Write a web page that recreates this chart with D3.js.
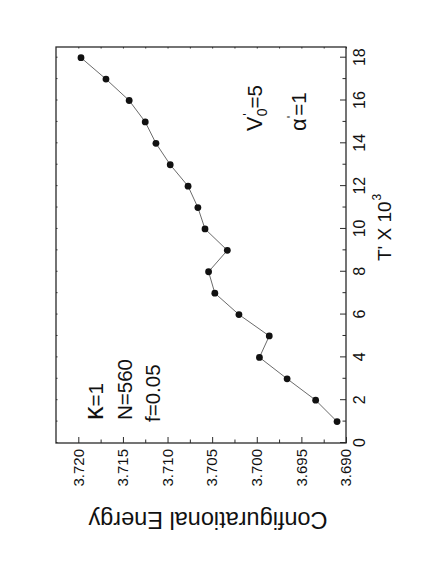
<!DOCTYPE html>
<html>
<head>
<meta charset="utf-8">
<script src="https://cdn.jsdelivr.net/npm/d3@7"></script>
<style>
  body { margin: 0; background: #fff; }
  svg { display: block; font-family: "Liberation Sans", Arial, sans-serif; }
</style>
</head>
<body>
<div id="chart"></div>
<script>
// Page size (the figure is drawn landscape, then turned a quarter turn)
const pageW = 436;
const pageH = 564;

// Data
const temps = [1, 2, 3, 4, 5, 6, 7, 8, 9, 10, 11, 12, 13, 14, 15, 16, 17, 18];
const energy = [3.6910, 3.6934, 3.6966, 3.6997, 3.6986, 3.7020, 3.7047, 3.7054, 3.7033,
                3.7058, 3.7066, 3.7077, 3.7097, 3.7113, 3.7125, 3.7143, 3.7169, 3.7197];

// Tick values
const tTicks = [0, 2, 4, 6, 8, 10, 12, 14, 16, 18];
const tMinor = [1, 3, 5, 7, 9, 11, 13, 15, 17];
const eTicks = [3.690, 3.695, 3.700, 3.705, 3.710, 3.715, 3.720];
const eMinor = [3.6925, 3.6975, 3.7025, 3.7075, 3.7125, 3.7175];

// Plot box in the un-rotated frame
const margin = {left: 121, right: 564 - 517, top: 56, bottom: 436 - 346};
const W = pageH;   // landscape width
const H = pageW;   // landscape height

const svg = d3.select("#chart")
  .append("svg")
  .attr("width", pageW)
  .attr("height", pageH);

// rotate everything by -90deg
const g = svg.append("g")
  .attr("transform", `translate(0,${pageH}) rotate(-90)`);

const x = d3.scaleLinear()
  .domain([0, 18.5])
  .range([margin.left, W - margin.right]);

const y = d3.scaleLinear()
  .domain([3.690, 3.7225])
  .range([H - margin.bottom, margin.top]);

const frameColor = "#2a2a2a";

// x axis (T') - ticks inside
const xAxis = g.append("g")
  .attr("transform", `translate(0,${H - margin.bottom})`)
  .call(d3.axisBottom(x).tickValues(tTicks).tickSizeInner(-6).tickSizeOuter(0).tickPadding(8));
xAxis.select(".domain").remove();
xAxis.selectAll("line").attr("stroke", frameColor);
xAxis.selectAll("text").attr("font-size", "16px").attr("fill", "#111");

const xMinor = g.append("g")
  .attr("transform", `translate(0,${H - margin.bottom})`)
  .call(d3.axisBottom(x).tickValues(tMinor).tickSizeInner(-3.5).tickSizeOuter(0).tickFormat(""));
xMinor.select(".domain").remove();
xMinor.selectAll("line").attr("stroke", frameColor);

// y axis (energy) - ticks inside
const yAxis = g.append("g")
  .attr("transform", `translate(${margin.left},0)`)
  .call(d3.axisLeft(y).tickValues(eTicks).tickFormat(d3.format(".3f"))
    .tickSizeInner(-6).tickSizeOuter(0).tickPadding(6));
yAxis.select(".domain").remove();
yAxis.selectAll("line").attr("stroke", frameColor);
yAxis.selectAll("text").attr("font-size", "15px").attr("fill", "#111");

const yMinor = g.append("g")
  .attr("transform", `translate(${margin.left},0)`)
  .call(d3.axisLeft(y).tickValues(eMinor).tickSizeInner(-3.5).tickSizeOuter(0).tickFormat(""));
yMinor.select(".domain").remove();
yMinor.selectAll("line").attr("stroke", frameColor);

// tiny mirrored ticks on the opposite sides
const yMirror = g.append("g")
  .attr("transform", `translate(${W - margin.right},0)`)
  .call(d3.axisRight(y).tickValues(eTicks.concat(eMinor)).tickSizeInner(-1.5).tickSizeOuter(0).tickFormat(""));
yMirror.select(".domain").remove();
yMirror.selectAll("line").attr("stroke", frameColor);

const xMirror = g.append("g")
  .attr("transform", `translate(0,${margin.top})`)
  .call(d3.axisTop(x).tickValues(tTicks.concat(tMinor)).tickSizeInner(-1.5).tickSizeOuter(0).tickFormat(""));
xMirror.select(".domain").remove();
xMirror.selectAll("line").attr("stroke", frameColor);

// frame
g.append("rect")
  .attr("x", margin.left)
  .attr("y", margin.top)
  .attr("width", W - margin.left - margin.right)
  .attr("height", H - margin.top - margin.bottom)
  .attr("fill", "none")
  .attr("stroke", frameColor)
  .attr("stroke-width", 1.3);

// line + points
const pts = temps.map((t, i) => ({t: t, e: energy[i]}));

g.append("path")
  .datum(pts)
  .attr("fill", "none")
  .attr("stroke", "#444")
  .attr("stroke-width", 0.8)
  .attr("d", d3.line().x(d => x(d.t)).y(d => y(d.e)));

g.selectAll(".pt")
  .data(pts)
  .enter()
  .append("circle")
    .attr("class", "pt")
    .attr("cx", d => x(d.t))
    .attr("cy", d => y(d.e))
    .attr("r", 3.4)
    .attr("fill", "#111");

// axis titles
const xTitle = g.append("text")
  .attr("x", 303)
  .attr("y", 391)
  .attr("font-size", "19px")
  .attr("fill", "#111");
xTitle.append("tspan").text("T' X 10");
xTitle.append("tspan").attr("font-size", "12px").attr("dy", -10).attr("dx", 1).text("3");

g.append("text")
  .attr("transform", `translate(52,${(margin.top + H - margin.bottom) / 2 + 7}) rotate(-90)`)
  .attr("text-anchor", "middle")
  .attr("font-size", "23.5px")
  .attr("fill", "#111")
  .text("Configurational Energy");

// annotations, lower left
const notes = g.append("g").attr("font-size", "20.5px").attr("fill", "#111");
const k = notes.append("text").attr("x", 144).attr("y", 103);
k.append("tspan").attr("font-size", "27px").text("κ");
k.append("tspan").text("=1");
notes.append("text").attr("x", 144).attr("y", 132).text("N=560");
notes.append("text").attr("x", 142).attr("y", 160).text("f=0.05");

// annotations, upper right
const v = notes.append("text").attr("x", 433).attr("y", 262);
v.append("tspan").attr("font-size", "21.5px").text("V");
v.append("tspan").attr("font-size", "13px").attr("dy", -10).attr("dx", 1).text("'");
v.append("tspan").attr("font-size", "14px").attr("dy", 15).attr("dx", -3).text("0");
v.append("tspan").attr("dy", -5).text("=5");

const a = notes.append("text").attr("x", 433).attr("y", 306);
a.append("tspan").attr("font-size", "22px").text("α");
a.append("tspan").attr("font-size", "13px").attr("dy", -10).attr("dx", 0).text("'");
a.append("tspan").attr("dy", 10).text("=1");
</script>
</body>
</html>
